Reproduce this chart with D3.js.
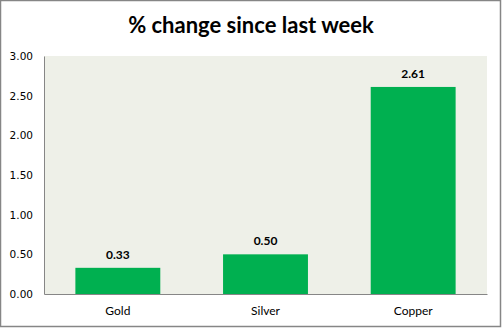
<!DOCTYPE html>
<html><head><meta charset="utf-8">
<script src="https://cdn.jsdelivr.net/npm/d3@7"></script>
<style>html,body{margin:0;padding:0;background:#fff;}svg{display:block;}</style>
</head><body>
<script>
const categories = ["Gold", "Silver", "Copper"];
const values = [0.33, 0.50, 2.61];
const yTicks = [0, 0.5, 1.0, 1.5, 2.0, 2.5, 3.0];
const title = "% change since last week";

const W = 502, H = 328;
const m = {left: 44, right: 15, top: 56, bottom: 34};
const svg = d3.select("body").append("svg").attr("width", W).attr("height", H);

svg.append("rect").attr("x", 0.5).attr("y", 0.5).attr("width", 500).attr("height", 326)
  .attr("fill", "#fff").attr("stroke", "#868686").attr("stroke-width", 1.5);

const x = d3.scaleBand().domain(categories).range([m.left, W - m.right]).paddingInner(0.425).paddingOuter(0.2125);
const y = d3.scaleLinear().domain([0, 3]).range([H - m.bottom, m.top]);

svg.append("rect").attr("x", m.left).attr("y", m.top)
  .attr("width", W - m.right - m.left).attr("height", H - m.bottom - m.top).attr("fill", "#EEF0E8");

svg.append("text").attr("x", 251).attr("y", 33).attr("text-anchor", "middle")
  .attr("font-family", "Lato, 'Open Sans', sans-serif").attr("font-weight", "bold")
  .attr("font-size", 22).attr("fill", "#000").text(title);

svg.selectAll("rect.bar").data(values).join("rect").attr("class", "bar")
  .attr("x", (d, i) => x(categories[i])).attr("width", x.bandwidth())
  .attr("y", d => y(d)).attr("height", d => y(0) - y(d)).attr("fill", "#00B050");

svg.selectAll("text.val").data(values).join("text").attr("class", "val")
  .attr("x", (d, i) => x(categories[i]) + x.bandwidth() / 2).attr("y", d => y(d) - 9)
  .attr("text-anchor", "middle").attr("font-family", "Lato, 'Open Sans', sans-serif")
  .attr("font-weight", "bold").attr("font-size", 12).attr("fill", "#000")
  .text(d => d.toFixed(2));

const yAxis = d3.axisLeft(y).tickValues(yTicks).tickFormat(d3.format(".2f")).tickSize(0).tickPadding(11);
const gy = svg.append("g").attr("transform", `translate(${m.left},0)`).call(yAxis);
gy.select(".domain").attr("stroke", "#868686");
gy.selectAll("text").attr("font-family", "Tahoma, 'DejaVu Sans', sans-serif").attr("font-size", 10.5).attr("fill", "#000");

const xAxis = d3.axisBottom(x).tickSize(0).tickPadding(12);
const gx = svg.append("g").attr("transform", `translate(0,${H - m.bottom})`).call(xAxis);
gx.select(".domain").attr("stroke", "#868686");
gx.selectAll("text").attr("font-family", "Lato, 'Open Sans', sans-serif").attr("font-size", 12).attr("fill", "#000");
</script>
</body></html>
